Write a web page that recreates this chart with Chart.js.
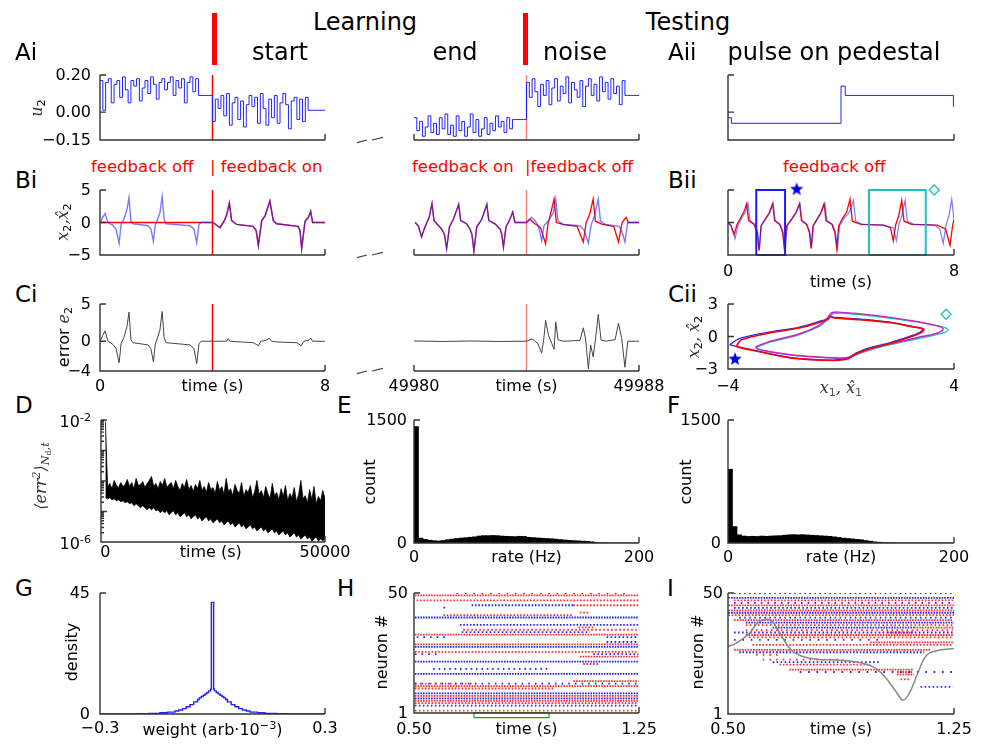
<!DOCTYPE html>
<html>
<head>
<meta charset="utf-8">
<title>Learning and testing</title>
<script src="https://cdn.jsdelivr.net/npm/chart.js@4.4.1/dist/chart.umd.min.js"></script>
<style>
  html, body { margin: 0; padding: 0; background: #fff; }
  body { position: relative; width: 1004px; height: 753px; overflow: hidden; font-family: 'DejaVu Sans', sans-serif; }
  canvas { position: absolute; }
  .t { position: absolute; white-space: nowrap; line-height: 1; color: #000; }
  .m { font-family: 'DejaVu Serif', serif; font-style: italic; color: #333; }
  .s { font-size: 0.7em; vertical-align: -0.25em; font-style: normal; }
  .p { font-size: 0.7em; vertical-align: 0.55em; }
  .bar { position: absolute; background: #f00; }
  svg { position: absolute; left: 0; top: 0; }
</style>
</head>
<body>
<svg width="1004" height="753">
  <g stroke="#444" stroke-width="1.2">
    <line x1="357" y1="142.7" x2="367" y2="140"/><line x1="372" y1="140" x2="383" y2="137.3"/>
    <line x1="357" y1="257.7" x2="367" y2="255"/><line x1="372" y1="255" x2="383" y2="252.3"/>
    <line x1="357" y1="373.7" x2="367" y2="371"/><line x1="372" y1="371" x2="383" y2="368.3"/>
  </g>
</svg>
<script>
// ---------- data ----------
const tGrid = Array.from({ length: 81 }, (_, i) => i / 10); // 0.1 s sample grid for u2
const seg2Start = 49980;

// u2 during "start" (0-8 s) and "end"/"noise" (49980-49988 s), one value per 0.1 s
const uStart = [0.17,0.01,0.16,0.18,0.05,0.15,0.17,0.08,0.19,0.12,
  0.05,0.17,0.14,0.18,0.06,0.13,0.17,0.10,0.19,0.15,
  0.07,0.16,0.18,0.12,0.16,0.19,0.09,0.17,0.13,0.18,
  0.05,0.16,0.19,0.11,0.18,0.09,0.09,0.09,0.09,0.09,
  -0.05,0.07,0.02,0.09,-0.02,0.10,-0.07,0.05,0.08,-0.04,
  0.06,-0.08,0.04,0.09,0.03,0.08,-0.06,0.10,0.02,-0.07,
  0.07,-0.03,0.09,-0.06,0.05,0.10,0.04,-0.09,0.06,0.08,
  -0.04,0.07,-0.05,0.08,0.01,0.01,0.01,0.01,0.01,0.01];
const uEnd = [-0.03,-0.10,-0.05,-0.13,-0.08,-0.02,-0.11,-0.06,-0.12,-0.03,
  -0.09,-0.01,-0.12,-0.07,-0.13,-0.02,-0.10,-0.05,-0.13,-0.08,
  -0.01,-0.11,-0.04,-0.13,-0.09,-0.03,-0.12,-0.06,-0.10,-0.02,
  -0.08,-0.05,-0.11,-0.03,-0.09,-0.04,-0.04,-0.04,-0.04,-0.04,
  0.16,0.08,0.18,0.11,0.03,0.15,0.09,0.17,0.04,0.13,
  0.18,0.06,0.14,0.10,0.19,0.05,0.16,0.12,0.08,0.17,
  0.03,0.14,0.18,0.09,0.15,0.06,0.19,0.11,0.16,0.07,
  0.18,0.10,0.14,0.04,0.17,0.09,0.09,0.09,0.09,0.09];
const pulseT = [0, 0.12, 4.0, 4.15, 7.98, 8];
const pulseU = [-0.03, -0.06, 0.14, 0.09, 0.03, 0.03];

// x2 (blue), start segment; x2-hat is 0 with feedback off, then follows x2
const x2T1 = [0,0.10,0.18,0.28,0.45,0.57,0.68,0.75,0.85,0.96,1.03,1.10,1.17,1.45,1.71,1.81,1.90,1.96,2.03,2.13,
  2.21,2.28,2.35,2.80,3.20,3.34,3.44,3.52,3.60,4.02,4.27,4.41,4.50,4.60,4.68,4.86,5.44,5.55,5.63,5.75,
  5.87,6.04,6.16,6.28,7.04,7.11,7.17,7.29,7.41,7.49,7.56,8.0];
const x2V1 = [0,0.8,1.4,0.0,-0.4,-1.0,-3.2,-0.3,0.5,2.0,3.8,0.2,-0.2,-0.35,-0.5,-1.0,-2.9,-0.5,0.3,1.5,
  4.0,0.5,-0.2,-0.35,-0.5,-1.0,-3.1,-0.3,0.0,0,-0.8,0.2,1.1,3.0,0.3,-0.3,-0.6,-1.2,-3.5,0.3,
  1.0,3.3,0.3,-0.2,-0.6,-1.2,-4.0,0.2,0.8,1.7,0,0];
const feedbackOn = 4.0;

// end/noise segment, time measured from 49980 s
const x2T2 = [0.04,0.15,0.27,0.39,0.54,0.64,0.71,0.81,0.98,1.08,1.16,1.26,1.40,1.59,1.66,1.87,1.99,2.06,2.13,2.23,
  2.41,2.59,2.66,2.88,3.06,3.12,3.18,3.27,3.41,3.51,3.59,4.0,
  4.18,4.30,4.42,4.54,4.62,4.80,4.95,5.04,5.12,5.30,5.90,6.05,6.20,6.30,6.42,6.55,6.63,6.80,7.30,7.40,7.50,7.60,8.0];
const x2V2 = [0,-0.5,-2.2,-0.7,0.8,2.9,0.3,-0.2,-1.0,-1.8,-4.0,-0.7,0.5,2.8,0.3,-0.2,-1.0,-1.8,-4.4,-0.7,
  0.5,2.8,0.3,-0.2,-1.0,-1.8,-3.8,-0.7,0.5,1.6,0,0,
  0.8,0.3,-0.5,-2.8,-0.5,0.4,1.5,3.6,0.2,-0.3,-0.5,-1.2,-3.2,-0.3,1.0,3.6,0.2,-0.3,-0.6,-1.5,-3.0,0,0];
const xhT2 = [0.04,0.15,0.27,0.39,0.54,0.64,0.71,0.81,0.98,1.08,1.16,1.26,1.40,1.59,1.66,1.87,1.99,2.06,2.13,2.23,
  2.41,2.59,2.66,2.88,3.06,3.12,3.18,3.27,3.41,3.51,3.59,4.0,
  4.12,4.30,4.50,4.68,4.76,4.85,4.98,5.06,5.30,5.80,6.02,6.12,6.25,6.37,6.45,6.70,7.10,7.27,7.40,7.54,7.62,8.0];
const xhV2 = [0,-0.5,-2.2,-0.7,0.8,2.9,0.3,-0.2,-1.0,-1.8,-4.0,-0.7,0.5,2.8,0.3,-0.2,-1.0,-1.8,-4.4,-0.7,
  0.5,2.8,0.3,-0.2,-1.0,-1.8,-3.8,-0.7,0.5,1.6,0,0,
  0.5,-0.2,-0.8,-3.3,-0.3,1.2,3.6,0,-0.3,-0.6,-3.0,0,1.3,3.6,0.2,-0.3,-0.6,-3.0,0,0.8,0,0];

// pulse on pedestal, feedback off
const biiT_b = [0,0.1,0.25,0.35,0.5,0.6,0.71,0.78,0.95,1.05,1.11,1.18,1.35,1.48,1.60,1.67,1.85,1.95,2.02,2.10,
  2.28,2.42,2.55,2.62,2.80,2.90,2.96,3.03,3.18,3.30,3.43,3.50,3.70,3.80,3.88,3.95,4.10,4.30,4.44,4.52,
  4.80,5.50,5.85,5.96,6.05,6.15,6.27,6.35,6.60,7.30,7.50,7.62,7.72,7.82,7.92,8.0];
const biiV_b = [0,-0.5,-2.5,-0.5,0.8,1.5,2.9,0.3,-0.3,-1.5,-4.3,-0.5,0.6,1.5,2.9,0.3,-0.3,-1.5,-4.3,-0.5,
  0.6,1.5,2.9,0.3,-0.3,-1.5,-4.0,-0.5,0.6,1.5,2.9,0.3,-0.3,-1.5,-4.0,-0.5,0.6,1.6,3.4,0.2,
  -0.3,-0.4,-0.8,-2.8,-0.3,1.0,3.4,0.2,-0.3,-0.4,-1.0,-3.2,-0.3,1.0,3.6,0.5];
const biiT_r = [0,0.1,0.22,0.32,0.46,0.56,0.66,0.73,0.92,1.03,1.10,1.17,1.33,1.46,1.58,1.65,1.83,1.93,2.00,2.08,
  2.26,2.40,2.53,2.60,2.78,2.88,2.94,3.01,3.16,3.28,3.40,3.47,3.68,3.78,3.85,3.92,4.05,4.20,4.32,4.40,
  4.70,5.50,5.75,5.85,5.94,6.04,6.15,6.23,6.50,7.40,7.70,7.86,7.95,8.0];
const biiV_r = [0,-0.4,-1.8,-0.3,0.8,1.6,2.9,0.3,-0.3,-1.5,-4.3,-0.5,0.6,1.5,2.9,0.3,-0.3,-1.5,-4.3,-0.5,
  0.6,1.5,2.9,0.3,-0.3,-1.5,-4.0,-0.5,0.6,1.5,2.9,0.3,-0.3,-1.5,-4.0,-0.5,0.6,1.6,3.6,0.2,
  -0.3,-0.4,-0.8,-2.8,-0.3,1.0,3.4,0.2,-0.3,-0.4,-1.0,-3.5,-0.5,0.5];
const boxStar = [1.0, 2.02];     // time window marked by the star
const boxDiamond = [4.99, 7.0];  // time window marked by the diamond

// error e2
const e2T1 = [0,0.10,0.18,0.28,0.45,0.57,0.68,0.75,0.85,0.96,1.03,1.10,1.17,1.45,1.71,1.81,1.90,1.96,2.03,2.13,
  2.21,2.28,2.35,2.80,3.20,3.34,3.44,3.52,3.60,4.0,4.5,4.56,4.62,5.0,5.45,5.63,5.72,5.9,6.02,6.1,
  6.3,7.0,7.15,7.25,7.4,7.5,7.56,8.0];
const e2V1 = [0,0.8,1.4,0.0,-0.4,-1.0,-2.9,-0.3,0.5,2.0,3.9,0.2,-0.2,-0.35,-0.5,-1.0,-2.8,-0.5,0.3,1.5,
  4.0,0.5,-0.2,-0.35,-0.5,-1.0,-3.0,-0.3,0.0,0,0,0.35,0,-0.1,-0.2,-0.6,0,0.1,0.4,0,
  -0.1,-0.2,-0.6,0,0.1,0.4,0,0];
const e2T2 = [0,1,2,3,4.0,4.2,4.4,4.54,4.62,4.68,4.78,4.9,4.98,5.04,5.12,5.3,5.9,6.02,6.1,6.2,
  6.28,6.37,6.46,6.55,6.65,6.8,7.15,7.27,7.38,7.5,7.6,8.0];
const e2V2 = [0.03,-0.03,0.03,-0.03,0,0.3,-0.3,-1.6,0.5,2.8,0.8,-0.3,-1.1,2.6,0.2,0,0.1,1.8,0.3,-3.7,
  -0.5,-2.1,0.5,3.6,0.2,0,0.2,2.4,0.5,-3.5,0,0];

// phase plane (x1, x2) for the two marked windows
const starX1_true = [-3.94,-3.60,-2.60,-1.50,-0.68,-0.48,-0.40,-0.32,-0.22,0.62,1.80,2.50,2.88,2.76,1.80,0.86,0.46,0.28,0.18,-0.32,-1.76,-2.96,-3.70,-3.94];
const starX2_true = [-0.77,-0.20,0.38,0.84,1.45,1.66,1.92,1.80,1.75,1.62,1.30,0.92,0.72,0.33,-0.52,-1.18,-1.64,-1.95,-2.06,-2.18,-1.95,-1.34,-0.92,-0.77];
const starX1_net = [-3.70,-3.52,-2.57,-1.49,-0.66,-0.45,-0.38,-0.30,-0.20,0.66,1.85,2.57,2.93,2.81,1.85,0.90,0.48,0.30,0.20,-0.30,-1.73,-2.92,-3.64,-3.70];
const starX2_net = [-0.86,-0.31,0.31,0.78,1.39,1.60,1.85,1.75,1.70,1.55,1.24,0.87,0.68,0.31,-0.56,-1.23,-1.69,-2.00,-2.10,-2.22,-2.00,-1.39,-0.98,-0.86];
const diaX1_true = [-2.99,-2.57,-1.49,-0.77,-0.48,-0.38,-0.30,-0.06,1.26,2.57,3.53,3.79,3.59,2.81,1.26,0.54,0.36,0.20,-0.06,-1.49,-2.57,-2.92,-2.99];
const diaX2_true = [-0.98,-0.56,0.16,0.93,1.55,1.85,2.10,2.17,1.85,1.39,0.93,0.62,0.31,-0.15,-1.07,-1.69,-1.91,-2.0,-2.0,-1.79,-1.39,-1.17,-0.98];
const diaX1_net = [-3.02,-2.60,-1.52,-0.80,-0.52,-0.42,-0.34,-0.10,1.20,2.50,3.40,3.62,3.45,2.72,1.20,0.50,0.32,0.16,-0.10,-1.52,-2.60,-2.95,-3.02];
const diaX2_net = [-0.95,-0.52,0.20,0.98,1.60,1.92,2.18,2.25,1.95,1.45,0.98,0.70,0.35,-0.10,-1.02,-1.64,-1.86,-1.97,-2.0,-1.76,-1.36,-1.14,-0.95];
const starMark = { bii: [2.43, 5.1], cii: [-3.75, -2.1] };
const diamondMark = { bii: [7.3, 5.0], cii: [3.72, 2.05] };

// D: mean squared error band over learning, every 500 s
const errTime = Array.from({ length: 101 }, (_, i) => i * 500);
const errHigh = [9e-3,
  6.6e-5,8.3e-5,5.6e-5,1.04e-4,7.1e-5,6.1e-5,8.9e-5,6.6e-5,7.7e-5,1.12e-4,
  6.6e-5,8.9e-5,5.6e-5,1.21e-4,7.1e-5,7.7e-5,9.6e-5,6.1e-5,8.3e-5,1.04e-4,
  1.41e-4,6.6e-5,8.3e-5,5.6e-5,9.6e-5,7.1e-5,1.21e-4,6.1e-5,7.7e-5,8.9e-5,
  5.6e-5,1.04e-4,6.6e-5,4.85e-5,8.3e-5,6.1e-5,1.12e-4,5.2e-5,7.1e-5,4.5e-5,
  7.7e-5,5.6e-5,1.04e-4,4.85e-5,6.6e-5,4.2e-5,8.9e-5,5.2e-5,6.1e-5,3.9e-5,
  9.6e-5,4.85e-5,6.6e-5,3.6e-5,1.21e-4,4.5e-5,5.6e-5,3.3e-5,7.7e-5,4.85e-5,
  3.9e-5,8.9e-5,3.1e-5,5.2e-5,4.2e-5,7.1e-5,2.85e-5,4.5e-5,1.04e-4,3.6e-5,
  4.85e-5,2.85e-5,6.6e-5,3.9e-5,2.6e-5,8.3e-5,3.3e-5,4.2e-5,2.45e-5,5.6e-5,
  3.1e-5,7.1e-5,2.25e-5,3.9e-5,2.85e-5,6.1e-5,2.1e-5,3.6e-5,1.04e-4,2.6e-5,
  3.3e-5,1.95e-5,5.2e-5,2.45e-5,6.6e-5,1.8e-5,3.1e-5,2.25e-5,4.85e-5,2.6e-5];
const errLow = [2.85e-5,2.6e-5,2.85e-5,2.45e-5,2.6e-5,2.25e-5,2.45e-5,2.1e-5,2.25e-5,1.95e-5,2.1e-5,
  1.8e-5,1.95e-5,1.55e-5,1.8e-5,1.55e-5,1.33e-5,1.55e-5,1.33e-5,1.14e-5,1.33e-5,
  1.14e-5,1.33e-5,1.06e-5,1.14e-5,9.1e-6,1.06e-5,9.1e-6,1.06e-5,7.8e-6,9.1e-6,
  1.06e-5,7.8e-6,9.1e-6,6.7e-6,7.8e-6,9.1e-6,6.7e-6,7.8e-6,5.75e-6,6.7e-6,
  7.8e-6,5.75e-6,6.7e-6,4.9e-6,5.75e-6,6.7e-6,4.9e-6,5.75e-6,4.25e-6,4.9e-6,
  5.75e-6,4.25e-6,4.9e-6,3.65e-6,4.25e-6,4.9e-6,3.65e-6,4.25e-6,3.1e-6,3.65e-6,
  4.25e-6,3.1e-6,3.65e-6,2.7e-6,3.1e-6,3.65e-6,2.7e-6,3.1e-6,2.3e-6,2.7e-6,
  3.1e-6,2.3e-6,2.7e-6,2.0e-6,2.3e-6,2.7e-6,2.0e-6,2.3e-6,1.7e-6,2.0e-6,
  2.3e-6,1.7e-6,2.0e-6,1.46e-6,1.7e-6,2.0e-6,1.46e-6,1.7e-6,1.26e-6,1.46e-6,
  1.7e-6,1.26e-6,1.46e-6,1.08e-6,1.26e-6,1.46e-6,1.08e-6,1.26e-6,1.08e-6,1.26e-6];
const decades = [1e-6, 1e-5, 1e-4, 1e-3, 1e-2];

// E, F: firing-rate histograms, 4 Hz bins
const rateBins = [2,6,10,14,18,22,26,30,34,38,42,46,50,54,58,62,66,70,74,78,82,86,90,94,98,
  102,106,110,114,118,122,126,130,134,138,142,146,150,154,158,162,166,170,174,178,182,186,190,194,198];
const countLearn = [1420,60,45,35,28,25,30,40,48,55,60,65,70,75,85,90,90,92,90,85,82,80,78,82,80,
  70,66,62,58,55,52,47,42,37,32,29,26,23,20,15,9,4,2,1,0,0,0,0,0,0];
const countTest = [900,200,100,85,80,82,80,85,82,85,88,90,95,100,102,100,102,98,95,92,88,85,81,75,68,
  60,55,50,45,40,30,22,14,10,6,4,2,1,1,0,0,0,0,0,0,0,0,0,0,0];

// G: weight histogram outline (left bin edges)
const weightEdge = [-0.3,-0.25,-0.2,-0.17,-0.14,-0.12,-0.1,-0.09,-0.08,-0.07,-0.06,-0.05,-0.04,-0.035,-0.03,-0.025,-0.02,-0.015,-0.01,-0.005,
  -0.003,0.003,0.005,0.01,0.015,0.02,0.025,0.03,0.035,0.04,0.05,0.06,0.07,0.08,0.09,0.1,0.12,0.14,0.17,0.2,0.25,0.3];
const weightDensity = [0.02,0.05,0.12,0.25,0.45,0.7,1.1,1.5,2.0,2.7,3.5,4.5,5.4,6.0,6.5,7.0,7.5,8.0,8.6,9.3,
  41.5,9.3,8.6,8.0,7.5,7.0,6.5,6.0,5.4,4.5,3.5,2.7,2.0,1.5,1.1,0.7,0.45,0.25,0.12,0.05,0.02,0.02];

// H: spike raster while learning (neuron, active from, to, rate Hz, population)
const hNeuron = [50,49,47,45,45,44,42,41,40,37,36,35,34,33,32,32,30,29,28,26,25,25,24,22,21,19,17,14,13,13,12,11,9,8,7,6,5,4,2];
const hFrom = [0.642,0.503,0.509,0.692,1.031,0.598,1.053,0.598,0.503,0.653,1.048,0.664,0.659,0.503,0.509,1.142,1.142,0.503,0.503,0.503,
  0.503,1.098,1.053,0.503,1.064,0.564,0.503,1.031,0.503,0.503,0.503,0.503,0.503,0.503,0.503,0.503,0.503,0.503,0.503];
const hTo = [1.22,1.248,1.248,1.031,1.248,0.62,1.087,1.031,1.248,1.248,1.098,1.242,1.087,1.248,0.62,1.242,1.242,1.248,1.248,1.248,
  0.576,1.248,1.248,1.248,1.114,0.948,1.248,1.248,1.248,0.70,1.248,0.964,1.248,1.248,1.248,1.248,1.248,1.248,1.248];
const hRate = [36,180,90,90,90,45,90,90,112,90,90,75,75,112,45,75,75,180,150,90,45,75,150,112,90,56,180,112,45,60,150,90,112,150,180,180,90,75,75];
const hPop = 'brrbrbrrbbrrbrbbbrbrbbrbrbbrbrrrbrbrrbr';
const hWindow = [0.70, 0.95];
const hWindowN = [-0.9, 1.1];

// I: spike raster under test, and the scaled input trace
const iNeuron = [50,48,47,46,45,44,43,42,41,40,39,38,37,36,36,35,34,34,33,32,31,30,29,27,26,25,23,22,21,19,18,18,17,15,12];
const iFrom = [0.52,0.501,0.52,0.52,0.501,0.52,0.501,0.501,0.501,0.537,0.52,0.559,0.559,0.648,1.117,0.559,0.52,1.028,0.559,0.57,
  0.52,0.972,0.581,0.52,0.537,0.593,0.615,0.648,0.671,0.704,0.738,1.061,1.061,1.073,1.139];
const iTo = [1.246,1.251,1.246,1.246,1.251,1.246,1.251,1.251,1.251,1.246,1.246,1.251,1.246,1.117,1.251,1.246,1.246,1.117,1.251,1.251,
  1.0,1.251,1.246,1.173,1.151,0.671,0.883,1.006,0.972,1.117,1.246,1.112,1.117,1.106,1.246];
const iRate = [60,180,90,45,150,75,110,180,90,60,110,180,75,180,150,60,75,180,110,75,36,180,90,180,90,45,45,75,90,150,36,150,110,90,75];
const iPop = 'bbrbrbrbrbrbrbrrbrrrbrrrbrrbrrbrrrb';
const traceT = [0.50,0.525,0.57,0.60,0.63,0.65,0.68,0.71,0.75,0.80,0.86,0.92,0.98,1.02,1.06,1.08,1.10,1.13,1.16,1.20,1.25];
const traceN = [28.4,29.5,33.5,38.1,39.4,38.1,32.1,26.8,24.2,23.1,22.9,22.2,20.2,16.2,9.6,6.7,9.0,17.6,24.9,26.8,27.5];

// ---------- chart setup ----------
Chart.defaults.animation = false;
Chart.defaults.responsive = false;
Chart.defaults.devicePixelRatio = 1;
Chart.defaults.events = [];
Chart.defaults.plugins.legend.display = false;
Chart.defaults.plugins.tooltip.enabled = false;
Chart.defaults.elements.point.radius = 0;
Chart.defaults.elements.point.hoverRadius = 0;
Chart.defaults.elements.line.borderWidth = 1;

const M = 10;
const BLUE = '#2020ff', RED = '#ff0000', RED_SOFT = 'rgba(255,40,40,0.6)';
const BLUE_T = 'rgba(40,40,255,0.62)', CYAN = '#22c0c0', MAG = '#c822c8';
const DOT_R = 'rgb(255,45,45)', DOT_B = 'rgb(35,35,255)';

// inward ticks + left/bottom spines
Chart.register({
  id: 'axes',
  afterDraw(chart, args, o) {
    if (!o.left && !o.bottom) return;
    const { ctx, chartArea: a, scales } = chart;
    const len = o.len || 6;
    ctx.save();
    ctx.strokeStyle = '#333';
    ctx.lineWidth = 1.4;
    ctx.beginPath();
    if (o.left) { ctx.moveTo(a.left, a.top); ctx.lineTo(a.left, a.bottom + 0.7); }
    if (o.bottom) { ctx.moveTo(a.left, a.bottom); ctx.lineTo(a.right, a.bottom); }
    (o.yTicks || []).forEach(v => { const y = scales.y.getPixelForValue(v); ctx.moveTo(a.left, y); ctx.lineTo(a.left + len, y); });
    (o.yMinor || []).forEach(v => { const y = scales.y.getPixelForValue(v); ctx.moveTo(a.left, y); ctx.lineTo(a.left + len / 2, y); });
    (o.xTicks || []).forEach(v => { const x = scales.x.getPixelForValue(v); ctx.moveTo(x, a.bottom); ctx.lineTo(x, a.bottom - len); });
    ctx.stroke();
    ctx.restore();
  }
});

// note: Chart.js paints the first dataset last (on top)
function plot(rect, xs, ys, datasets, axes, type) {
  const c = document.createElement('canvas');
  c.width = rect[2] + 2 * M;
  c.height = rect[3] + 2 * M;
  c.style.left = (rect[0] - M) + 'px';
  c.style.top = (rect[1] - M) + 'px';
  document.body.appendChild(c);
  return new Chart(c, {
    type: type || 'line',
    data: { datasets },
    options: {
      layout: { padding: M },
      scales: {
        x: Object.assign({ type: 'linear', display: false, offset: false }, xs),
        y: Object.assign({ type: 'linear', display: false }, ys)
      },
      plugins: { axes }
    }
  });
}

const pts = (xs, ys, shift = 0) => xs.map((x, i) => ({ x: x + shift, y: ys[i] }));
const vline = (x, y0, y1, color, w) => ({ data: [{ x, y: y0 }, { x, y: y1 }], borderColor: color, borderWidth: w || 1.3 });
const box = (b, y0, y1, color, w) => ({
  data: [{ x: b[0], y: y0 }, { x: b[1], y: y0 }, { x: b[1], y: y1 }, { x: b[0], y: y1 }, { x: b[0], y: y0 }],
  borderColor: color, borderWidth: w || 2, clip: false
});

function starImage(r, color) {
  const c = document.createElement('canvas');
  c.width = c.height = 2 * r + 2;
  const g = c.getContext('2d');
  g.fillStyle = color;
  g.beginPath();
  for (let k = 0; k < 10; k++) {
    const a = -Math.PI / 2 + k * Math.PI / 5, rr = k % 2 ? r * 0.42 : r;
    g.lineTo(r + 1 + rr * Math.cos(a), r + 1 + rr * Math.sin(a));
  }
  g.closePath();
  g.fill();
  return c;
}
const STAR = starImage(7, '#0000dd');
const markers = (s, d) => [
  { data: [{ x: s[0], y: s[1] }], showLine: false, pointRadius: 7, pointStyle: STAR, clip: false },
  { data: [{ x: d[0], y: d[1] }], showLine: false, pointRadius: 5, pointStyle: 'rectRot',
    borderColor: CYAN, backgroundColor: 'rgba(0,0,0,0)', pointBorderWidth: 1.3, clip: false }
];

function raster(n, t0, t1, rate, pop, pxPerSec) {
  return n.map((nn, i) => {
    const period = Math.max(pxPerSec / rate[i], 2.7);
    return {
      data: [{ x: t0[i], y: nn }, { x: t1[i], y: nn }],
      borderColor: pop[i] === 'r' ? DOT_R : DOT_B,
      borderWidth: 1.8, borderDash: [1.6, period - 1.6], borderCapStyle: 'butt'
    };
  });
}

// ---- row A: u2 ----
const RA1 = [100, 75, 225, 65], RA2 = [414, 75, 225, 65], RAii = [728, 75, 226, 65];
const uRange = { min: -0.15, max: 0.2 };
const cA1 = plot(RA1, { min: 0, max: 8 }, uRange, [
  { data: tGrid.map((t, i) => ({ x: t, y: uStart[Math.min(i, 79)] })), stepped: true, borderColor: BLUE },
  vline(4, -0.15, 0.2, RED, 1.5)
], { left: true, bottom: true, yTicks: [0.2, 0], xTicks: [8] });
const cA2 = plot(RA2, { min: seg2Start, max: seg2Start + 8 }, uRange, [
  { data: tGrid.map((t, i) => ({ x: seg2Start + t, y: uEnd[Math.min(i, 79)] })), stepped: true, borderColor: BLUE },
  vline(seg2Start + 4, -0.15, 0.2, RED_SOFT, 1.5)
], { bottom: true, xTicks: [seg2Start, seg2Start + 8] });
const cAii = plot(RAii, { min: 0, max: 8 }, uRange, [
  { data: pts(pulseT, pulseU), stepped: true, borderColor: BLUE }
], { left: true, bottom: true, yTicks: [0.2, 0], xTicks: [8] });

// ---- row B: x2 and its estimate ----
const RB1 = [100, 190, 225, 65], RB2 = [414, 190, 225, 65], RBii = [728, 190, 226, 65];
const xRange = { min: -5, max: 5 };
const x2Start = pts(x2T1, x2V1);
const xhatStart = [{ x: 0, y: 0 }, { x: feedbackOn, y: 0 }, ...x2Start.filter(p => p.x > feedbackOn)];
const cB1 = plot(RB1, { min: 0, max: 8 }, xRange, [
  { data: x2Start, borderColor: BLUE_T, borderWidth: 1.4 },
  { data: xhatStart, borderColor: RED, borderWidth: 1.4 },
  vline(4, -5, 5, RED, 1.5)
], { left: true, bottom: true, yTicks: [5, 0], xTicks: [8] });
const cB2 = plot(RB2, { min: seg2Start, max: seg2Start + 8 }, xRange, [
  { data: pts(x2T2, x2V2, seg2Start), borderColor: BLUE_T, borderWidth: 1.4 },
  { data: pts(xhT2, xhV2, seg2Start), borderColor: RED, borderWidth: 1.3 },
  vline(seg2Start + 4, -5, 5, RED_SOFT, 1.5)
], { bottom: true, xTicks: [seg2Start, seg2Start + 8] });
const cBii = plot(RBii, { min: 0, max: 8 }, xRange, [
  ...markers(starMark.bii, diamondMark.bii),
  box(boxStar, -5, 5, '#1a1aff'),
  box(boxDiamond, -5, 5, CYAN),
  { data: pts(biiT_b, biiV_b), borderColor: BLUE_T, borderWidth: 1.2 },
  { data: pts(biiT_r, biiV_r), borderColor: RED, borderWidth: 1.3 }
], { left: true, bottom: true, yTicks: [5, 0], xTicks: [8] });

// ---- row C: error, phase plane ----
const RC1 = [100, 304, 225, 67], RC2 = [414, 304, 225, 67], RCii = [728, 304, 226, 65];
const eRange = { min: -4, max: 5 };
const cC1 = plot(RC1, { min: 0, max: 8 }, eRange, [
  { data: pts(e2T1, e2V1), borderColor: '#444', borderWidth: 1 },
  vline(4, -4, 5, RED, 1.5)
], { left: true, bottom: true, yTicks: [5, 0], xTicks: [8] });
const cC2 = plot(RC2, { min: seg2Start, max: seg2Start + 8 }, eRange, [
  { data: pts(e2T2, e2V2, seg2Start), borderColor: '#444', borderWidth: 1 },
  vline(seg2Start + 4, -4, 5, RED_SOFT, 1.5)
], { bottom: true, xTicks: [seg2Start, seg2Start + 8] });
const loop = (a, b, color, w) => ({ data: pts(a, b), borderColor: color, borderWidth: w, tension: 0.35 });
const cCii = plot(RCii, { min: -4, max: 4 }, { min: -3, max: 3 }, [
  ...markers(starMark.cii, diamondMark.cii),
  loop(starX1_net, starX2_net, RED, 1.6),
  loop(diaX1_net, diaX2_net, MAG, 1.5),
  loop(starX1_true, starX2_true, '#2a2aff', 1.4),
  loop(diaX1_true, diaX2_true, CYAN, 1.4)
], { left: true, bottom: true, yTicks: [3, 0], xTicks: [4] });

// ---- row D-F ----
const RD = [101, 420, 224, 122], RE = [414, 420, 225, 123], RF = [728, 420, 226, 123];
const minorTicks = [];
decades.slice(0, 4).forEach(d => { for (let k = 2; k < 10; k++) minorTicks.push(k * d); });
const cD = plot(RD, { min: -1000, max: 50000 }, { type: 'logarithmic', min: 1e-6, max: 1e-2 }, [
  { data: pts(errTime, errLow), borderColor: '#000', borderWidth: 0.8 },
  { data: pts(errTime, errHigh), borderColor: '#000', borderWidth: 0.8, fill: '-1', backgroundColor: '#000' }
], { left: true, bottom: true, yTicks: decades, yMinor: minorTicks, xTicks: [50000] });
const hist = counts => [{ data: pts(rateBins, counts), backgroundColor: '#000', borderWidth: 0, barPercentage: 1, categoryPercentage: 1 }];
const cE = plot(RE, { min: 0, max: 200 }, { min: 0, max: 1500 }, hist(countLearn),
  { left: true, bottom: true, yTicks: [1500], xTicks: [200] }, 'bar');
const cF = plot(RF, { min: 0, max: 200 }, { min: 0, max: 1500 }, hist(countTest),
  { left: true, bottom: true, yTicks: [1500], xTicks: [200] }, 'bar');

// ---- row G-I ----
const RG = [100, 593, 225, 121], RH = [414, 593, 225, 120], RI = [728, 593, 226, 121];
const cG = plot(RG, { min: -0.3, max: 0.3 }, { min: 0, max: 45 }, [
  { data: pts(weightEdge, weightDensity), stepped: true, borderColor: BLUE, borderWidth: 1.4 }
], { left: true, bottom: true, yTicks: [45], xTicks: [0.3] });
const cH = plot(RH, { min: 0.5, max: 1.25 }, { min: 1, max: 50 }, [
  ...raster(hNeuron, hFrom, hTo, hRate, hPop, RH[2] / 0.75),
  box(hWindow, hWindowN[0], hWindowN[1], '#2a9a2a', 1.2)
], { left: true, bottom: true, yTicks: [50], xTicks: [1.25] });
const cI = plot(RI, { min: 0.5, max: 1.25 }, { min: 1, max: 50 }, [
  { data: pts(traceT, traceN), borderColor: '#888', borderWidth: 1.5, tension: 0.4 },
  ...raster(iNeuron, iFrom, iTo, iRate, iPop, RI[2] / 0.75)
], { left: true, bottom: true, yTicks: [50], xTicks: [1.25] });

// ---------- text ----------
function txt(html, x, y, o = {}) {
  const size = o.size || 16;
  const d = document.createElement('div');
  d.className = 't' + (o.cls ? ' ' + o.cls : '');
  d.innerHTML = html;
  d.style.fontSize = size + 'px';
  if (o.color) d.style.color = o.color;
  d.style.left = x + 'px';
  d.style.top = (o.mid ? y - size / 2 : y - size * 0.846) + 'px';
  const ax = o.align === 'left' ? 0 : o.align === 'right' ? -100 : -50;
  d.style.transform = 'translateX(' + ax + '%)';
  document.body.appendChild(d);
}
function vtxt(html, cx, cy, o = {}) {
  const d = document.createElement('div');
  d.className = 't' + (o.cls ? ' ' + o.cls : '');
  d.innerHTML = html;
  d.style.fontSize = (o.size || 16) + 'px';
  if (o.color) d.style.color = o.color;
  d.style.left = cx + 'px';
  d.style.top = cy + 'px';
  d.style.transform = 'translate(-50%,-50%) rotate(-90deg)';
  document.body.appendChild(d);
}
const X = (ch, v) => ch.canvas.offsetLeft + ch.scales.x.getPixelForValue(v);
const Y = (ch, v) => ch.canvas.offsetTop + ch.scales.y.getPixelForValue(v);
const yLabels = (ch, vals, labels, gap = 9) => vals.forEach((v, i) =>
  txt(labels[i], ch.canvas.offsetLeft + ch.chartArea.left - gap, Y(ch, v), { align: 'right', mid: true }));
const xLabels = (ch, vals, labels, base) => vals.forEach((v, i) => txt(labels[i], X(ch, v), base));

// headings
txt('Learning', 365, 30, { size: 24 });
txt('Testing', 688, 30, { size: 24 });
txt('start', 280, 60, { size: 24 });
txt('end', 455, 60, { size: 24 });
txt('noise', 575, 60, { size: 24 });
txt('pulse on pedestal', 834, 60, { size: 24 });
[['Ai', 15, 60], ['Aii', 668, 60], ['Bi', 15, 188], ['Bii', 668, 188], ['Ci', 15, 302], ['Cii', 668, 302],
 ['D', 15, 413], ['E', 337, 413], ['F', 667, 413], ['G', 15, 596], ['H', 337, 596], ['I', 667, 596]]
  .forEach(([s, x, y]) => txt(s, x, y, { size: 23, align: 'left' }));

// thick red markers above the switch times
[X(cA1, 4) - 0.5, X(cA2, seg2Start + 4) - 3.5].forEach(x => {
  const b = document.createElement('div');
  b.className = 'bar';
  b.style.left = x + 'px'; b.style.top = '13px'; b.style.width = '4.5px'; b.style.height = '52px';
  document.body.appendChild(b);
});

// feedback annotations
const fb = { size: 16.5, color: RED, align: 'left' };
txt('feedback off', 91, 173, fb);
txt('| feedback on', 210, 173, fb);
txt('feedback on', 412, 173, fb);
txt('|feedback off', 525, 173, fb);
txt('feedback off', 783, 173, fb);

// tick labels
yLabels(cA1, [0.2, 0, -0.15], ['0.20', '0.00', '−0.15']);
yLabels(cB1, [5, 0, -5], ['5', '0', '−5']);
yLabels(cC1, [5, 0, -4], ['5', '0', '−4']);
yLabels(cCii, [3, 0, -3], ['3', '0', '−3'], 10);
yLabels(cD, [1e-2, 1e-6], ['10<span class="p">-2</span>', '10<span class="p">-6</span>'], 10);
yLabels(cE, [1500, 0], ['1500', '0'], 7);
yLabels(cF, [1500, 0], ['1500', '0'], 7);
yLabels(cG, [45, 0], ['45', '0'], 10);
yLabels(cH, [50, 1], ['50', '1'], 6);
yLabels(cI, [50, 1], ['50', '1'], 5);

xLabels(cBii, [0, 8], ['0', '8'], 277);
xLabels(cBii, [4], ['time (s)'], 288);
xLabels(cC1, [0, 4, 8], ['0', 'time (s)', '8'], 392);
xLabels(cC2, [seg2Start, seg2Start + 4, seg2Start + 8], ['49980', 'time (s)', '49988'], 392);
xLabels(cCii, [-4, 4], ['−4', '4'], 392);
xLabels(cD, [0, 24000, 50000], ['0', 'time (s)', '50000'], 558);
xLabels(cE, [0, 100, 200], ['0', 'rate (Hz)', '200'], 563);
xLabels(cF, [0, 100, 200], ['0', 'rate (Hz)', '200'], 563);
xLabels(cG, [-0.3, 0, 0.3], ['−0.3', 'weight (arb·10<span class="p">−3</span>)', '0.3'], 734);
xLabels(cH, [0.5, 0.875, 1.25], ['0.50', 'time (s)', '1.25'], 735);
xLabels(cI, [0.5, 0.875, 1.25], ['0.50', 'time (s)', '1.25'], 735);
txt('<span class="m">x</span><span class="s">1</span><span class="m">, x&#770;</span><span class="s">1</span>', X(cCii, 0), 394, { color: '#555' });

// axis titles
vtxt('<span class="m">u</span><span class="s">2</span>', 38, 108);
vtxt('<span class="m">x</span><span class="s">2</span><span class="m">,x&#770;</span><span class="s">2</span>', 64, 222);
vtxt('error <span class="m">e</span><span class="s">2</span>', 65, 337);
vtxt('<span class="m">x</span><span class="s">2</span><span class="m">, x&#770;</span><span class="s">2</span>', 695, 337);
vtxt('<span class="m">⟨err<span class="p">2</span>⟩<span class="s"><i>N<span class="s">d</span>,t</i></span></span>', 42, 476);
vtxt('count', 370, 482);
vtxt('count', 686, 482);
vtxt('density', 72, 652);
vtxt('neuron #', 382, 652);
vtxt('neuron #', 698, 652);
</script>
</body>
</html>
